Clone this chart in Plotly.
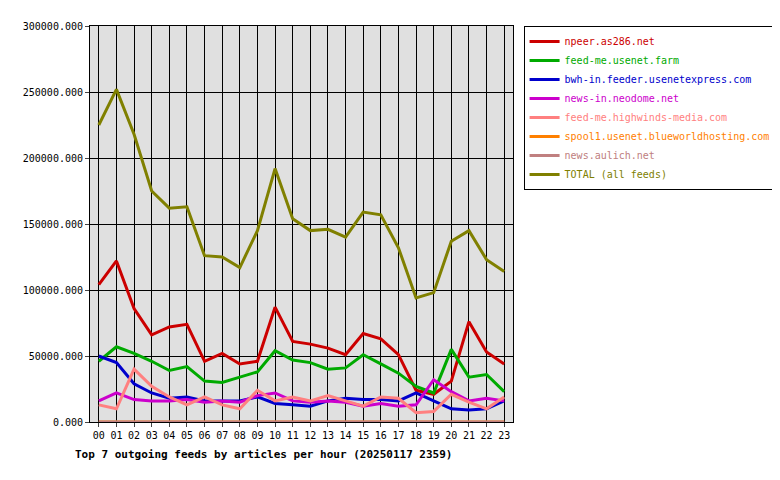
import plotly.graph_objects as go

hours = ["%02d" % h for h in range(24)]

npeer = [104000, 122000, 86000, 66000, 72000, 74000, 46000, 52000, 44000, 46000, 87000, 61000,
         59000, 56000, 51000, 67000, 63000, 51000, 24000, 21000, 31000, 76000, 53000, 44000]
feedme_farm = [46000, 57000, 52000, 46000, 39000, 42000, 31000, 30000, 34000, 38000, 54000, 47000,
               45000, 40000, 41000, 51000, 44000, 37000, 27000, 22000, 55000, 34000, 36000, 23000]
bwh = [50000, 45000, 29000, 22000, 18000, 19000, 16000, 16000, 16000, 19000, 14000, 13000,
       12000, 16000, 18000, 17000, 17000, 16000, 22000, 16000, 10000, 9000, 10000, 16000]
neodome = [16000, 22000, 17000, 16000, 16000, 17000, 15000, 16000, 15000, 20000, 22000, 16000,
           15000, 16000, 15000, 12000, 14000, 12000, 13000, 32000, 23000, 16000, 18000, 16000]
highwinds = [13000, 10000, 40000, 27000, 19000, 13000, 19000, 13000, 10000, 24000, 16000, 19000,
             16000, 20000, 16000, 12000, 19000, 18000, 7000, 8000, 21000, 15000, 10000, 19000]
spool1 = [0] * 24
aulich = [0] * 24
total = [225000, 252000, 218000, 175000, 162000, 163000, 126000, 125000, 117000, 145000, 192000, 154000,
         145000, 146000, 140000, 159000, 157000, 132000, 94000, 98000, 137000, 145000, 123000, 114000]

series = [
    ("npeer.as286.net", npeer, "#cc0000"),
    ("feed-me.usenet.farm", feedme_farm, "#00aa00"),
    ("bwh-in.feeder.usenetexpress.com", bwh, "#0000cc"),
    ("news-in.neodome.net", neodome, "#cc00cc"),
    ("feed-me.highwinds-media.com", highwinds, "#ff8080"),
    ("spool1.usenet.blueworldhosting.com", spool1, "#ff8000"),
    ("news.aulich.net", aulich, "#c08080"),
    ("TOTAL (all feeds)", total, "#808000"),
]

fig = go.Figure()
for name, vals, col in series:
    fig.add_trace(go.Scatter(
        x=hours, y=vals, mode="lines",
        name="<span style='color:%s'>%s</span>" % (col, name),
        line=dict(color=col, width=3)))

fig.update_layout(
    width=780, height=480,
    paper_bgcolor="white", plot_bgcolor="#e0e0e0",
    font=dict(family="DejaVu Sans Mono", size=10, color="black"),
    margin=dict(l=82, r=247, t=12, b=66),
    legend=dict(x=1.025, y=1, xanchor="left", yanchor="top", bordercolor="black",
                borderwidth=1, bgcolor="white", itemwidth=30, tracegroupgap=0,
                font=dict(family="DejaVu Sans Mono", size=10)),
    xaxis=dict(showgrid=True, gridcolor="black", gridwidth=1, tickmode="array",
               tickvals=hours, ticks="outside", ticklen=4, range=[-0.5, 23.5],
               showline=True, linecolor="black", mirror=True, zeroline=False),
    yaxis=dict(range=[0, 300000], dtick=50000, tickformat=".3f", showgrid=True,
               gridcolor="black", ticks="outside", ticklen=4, showline=True,
               linecolor="black", mirror=True, zeroline=False),
)

fig.add_annotation(text="<b>Top 7 outgoing feeds by articles per hour (20250117 2359)</b>",
                   xref="paper", yref="paper", x=-0.04, y=-0.06, xanchor="left",
                   yanchor="top", showarrow=False,
                   font=dict(family="DejaVu Sans Mono", size=11))

fig.write_html("out.html")
